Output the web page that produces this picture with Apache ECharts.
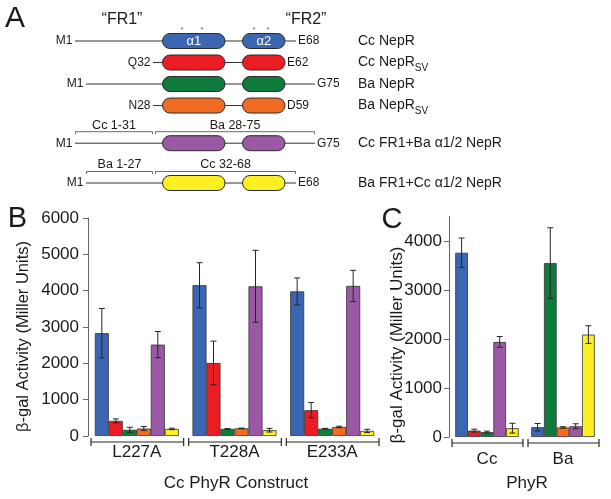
<!DOCTYPE html>
<html><head><meta charset="utf-8">
<script src="https://cdn.jsdelivr.net/npm/echarts@6/dist/echarts.min.js"></script>
<style>html,body{margin:0;padding:0;background:#fff}#c{width:611px;height:499px}</style>
</head><body><div id="c"></div>
<script>
// ---------- DATA ----------
const constructNames = ['Cc NepR', 'Cc NepR{sv|SV}', 'Ba NepR', 'Ba NepR{sv|SV}', 'Cc FR1+Ba α1/2 NepR', 'Ba FR1+Cc α1/2 NepR'];
// panel A schematic (alignment columns)
const aLeftLabels = ['M1', 'Q32', 'M1', 'N28', 'M1', 'M1'];
const aRightLabels = ['E68', 'E62', 'G75', 'D59', 'G75', 'E68'];
const aLineStart = [0, 31.2, 4.4, 31.2, 0, 4.4];
const aLineEnd = [88.4, 84, 96, 84, 96, 88.4];
const aHelix1 = [35, 60];
const aHelix2 = [67, 84];
const aBracketsRow5 = [[0, 31.2, 'Cc 1-31'], [32, 96, 'Ba 28-75']];
const aBracketsRow6 = [[4.4, 31.2, 'Ba 1-27'], [32, 88.4, 'Cc 32-68']];
const aHelixLabels = ['α1', 'α2'];
const aStars = [42.8, 50.8, 71.6, 77.2];

// panel B
const bCategories = ['L227A', 'T228A', 'E233A'];
const bCcNepR = [2830, 4150, 3980];
const bCcNepRSV = [415, 2010, 710];
const bBaNepR = [170, 195, 200];
const bBaNepRSV = [205, 210, 250];
const bCcFR1 = [2515, 4120, 4130];
const bBaFR1 = [195, 160, 140];
const bErrCcNepR = [680, 620, 370];
const bErrCcNepRSV = [55, 600, 210];
const bErrBaNepR = [70, 8, 10];
const bErrBaNepRSV = [55, 8, 20];
const bErrCcFR1 = [360, 990, 430];
const bErrBaFR1 = [20, 50, 45];
const bTicks = [0, 1000, 2000, 3000, 4000, 5000, 6000];

// panel C
const cCategories = ['Cc', 'Ba'];
const cCcNepR = [3760, 200];
const cCcNepRSV = [130, null];
const cBaNepR = [100, 3550];
const cBaNepRSV = [null, 195];
const cCcFR1 = [1940, 220];
const cBaFR1 = [180, 2090];
const cErrCcNepR = [300, 75];
const cErrCcNepRSV = [30, null];
const cErrBaNepR = [20, 720];
const cErrBaNepRSV = [null, 15];
const cErrCcFR1 = [110, 50];
const cErrBaFR1 = [100, 180];
const cTicks = [0, 1000, 2000, 3000, 4000];

// ---------- STYLE / LAYOUT ----------
const colors = ['#3c66b1', '#ec1c24', '#0f7b3d', '#f26b22', '#9a58a5', '#fcef22'];
const FONT = "'Liberation Sans', Arial, sans-serif";
const TXT = '#1a1a1a';
const aLane = [0, 1, 2, 3, 4.75, 6.6];
const aNameCol = 113.2;
const B_BAR = 14, C_BAR = 12.7;

const bMeans = [bCcNepR, bCcNepRSV, bBaNepR, bBaNepRSV, bCcFR1, bBaFR1];
const bErrs = [bErrCcNepR, bErrCcNepRSV, bErrBaNepR, bErrBaNepRSV, bErrCcFR1, bErrBaFR1];
const cMeans = [cCcNepR, cCcNepRSV, cBaNepR, cBaNepRSV, cCcFR1, cBaFR1];
const cErrs = [cErrCcNepR, cErrCcNepRSV, cErrBaNepR, cErrBaNepRSV, cErrCcFR1, cErrBaFR1];

const chart = echarts.init(document.getElementById('c'), null, {renderer: 'canvas'});

function errRender(barW) {
  return function (params, api) {
    const cat = api.value(0), m = api.value(1), e = api.value(2), s = api.value(3), n = api.value(4);
    const c = api.coord([cat, m]);
    const x = c[0] + (s - (n - 1) / 2) * barW;
    const yt = api.coord([cat, m + e])[1];
    const yb = api.coord([cat, Math.max(m - e, 0)])[1];
    const st = {stroke: '#262626', lineWidth: 1};
    return {type: 'group', children: [
      {type: 'line', shape: {x1: x, y1: yt, x2: x, y2: yb}, style: st},
      {type: 'line', shape: {x1: x - 3, y1: yt, x2: x + 3, y2: yt}, style: st},
      {type: 'line', shape: {x1: x - 3, y1: yb, x2: x + 3, y2: yb}, style: st}
    ]};
  };
}
function bracketRender(params, api) {
  const cat = api.value(0);
  const c = api.coord([cat, 0]);
  const bw = api.size([1, 0])[0];
  const y = c[1] + 6;
  const x1 = c[0] - bw / 2 + 3, x2 = c[0] + bw / 2 - 2;
  const st = {stroke: '#262626', lineWidth: 1.2};
  return {type: 'group', children: [
    {type: 'line', shape: {x1: x1, y1: y, x2: x2, y2: y}, style: st},
    {type: 'line', shape: {x1: x1, y1: y - 4, x2: x1, y2: y + 4}, style: st},
    {type: 'line', shape: {x1: x2, y1: y - 4, x2: x2, y2: y + 4}, style: st}
  ]};
}
function schematicRender(params, api) {
  const i = params.dataIndex, lane = aLane[i];
  const P = x => api.coord([x, lane]);
  const y = P(0)[1];
  const ch = [];
  const xs = P(aLineStart[i])[0], xe = P(aLineEnd[i])[0];
  ch.push({type: 'line', shape: {x1: xs, y1: y, x2: xe, y2: y}, style: {stroke: '#333', lineWidth: 1}});
  [aHelix1, aHelix2].forEach((h, k) => {
    const x1 = P(h[0])[0], x2 = P(h[1])[0];
    ch.push({type: 'rect', shape: {x: x1, y: y - 7.5, width: x2 - x1, height: 15, r: 7.5},
      style: {fill: colors[i], stroke: '#2b2b2b', lineWidth: 1}});
    if (i === 0) ch.push({type: 'text', x: (x1 + x2) / 2, y: y + 0.5,
      style: {text: aHelixLabels[k], fill: '#fff', font: '13px ' + FONT, align: 'center', verticalAlign: 'middle'}});
  });
  if (i === 0) aStars.forEach(s => ch.push({type: 'text', x: P(s)[0], y: y - 11,
    style: {text: '*', fill: '#666', font: '8px ' + FONT, align: 'center', verticalAlign: 'middle'}}));
  ch.push({type: 'text', x: xs - 2.5, y: y, style: {text: aLeftLabels[i], fill: TXT, font: '12px ' + FONT, align: 'right', verticalAlign: 'middle'}});
  ch.push({type: 'text', x: xe + 2, y: y, style: {text: aRightLabels[i], fill: TXT, font: '12px ' + FONT, align: 'left', verticalAlign: 'middle'}});
  ch.push({type: 'text', x: P(aNameCol)[0], y: y, style: {text: constructNames[i], fill: TXT, font: '14px ' + FONT, align: 'left', verticalAlign: 'middle',
    rich: {sv: {fontSize: 10, fontFamily: FONT, fill: TXT, padding: [12, 0, 0, 0]}}}});
  const br = i === 4 ? aBracketsRow5 : (i === 5 ? aBracketsRow6 : null);
  if (br) {
    const yb = y - 11.5;
    br.forEach(b => {
      const x1 = P(b[0])[0] + 0.5, x2 = P(b[1])[0] - 0.5;
      const st = {stroke: '#444', lineWidth: 0.8};
      ch.push({type: 'line', shape: {x1: x1, y1: yb, x2: x2, y2: yb}, style: st});
      ch.push({type: 'line', shape: {x1: x1, y1: yb, x2: x1, y2: yb + 2.5}, style: st});
      ch.push({type: 'line', shape: {x1: x2, y1: yb, x2: x2, y2: yb + 2.5}, style: st});
      ch.push({type: 'text', x: (x1 + x2) / 2, y: yb - 6.5, style: {text: b[2], fill: TXT, font: '12.5px ' + FONT, align: 'center', verticalAlign: 'middle'}});
    });
  }
  return {type: 'group', children: ch};
}

// panel B series
const series = [];
bMeans.forEach((arr, i) => {
  series.push({type: 'bar', xAxisIndex: 0, yAxisIndex: 0, data: arr, barWidth: B_BAR, barGap: '0%',
    itemStyle: {color: colors[i], borderColor: '#333', borderWidth: 0.8}, silent: true});
});
const bErrData = [];
bMeans.forEach((arr, i) => arr.forEach((v, c) => bErrData.push([c, v, bErrs[i][c], i, bMeans.length])));
series.push({type: 'custom', xAxisIndex: 0, yAxisIndex: 0, data: bErrData, renderItem: errRender(B_BAR), encode: {x: 0, y: 1}, z: 5, silent: true});
series.push({type: 'custom', xAxisIndex: 0, yAxisIndex: 0, data: bCategories.map((c, k) => [k, 0]), renderItem: bracketRender, encode: {x: 0, y: 1}, clip: false, silent: true});

// panel C: each category shows only the constructs with values, in order (slots)
const cSlotsCount = Math.max(...cCategories.map((c, k) => cMeans.filter(a => a[k] != null).length));
const cSlotData = Array.from({length: cSlotsCount}, () => cCategories.map(() => null));
const cErrData = [];
cCategories.forEach((cat, k) => {
  let s = 0;
  cMeans.forEach((arr, i) => {
    if (arr[k] == null) return;
    cSlotData[s][k] = {value: arr[k], itemStyle: {color: colors[i]}};
    cErrData.push([k, arr[k], cErrs[i][k], s, cSlotsCount]);
    s++;
  });
});
cSlotData.forEach(d => series.push({type: 'bar', xAxisIndex: 1, yAxisIndex: 1, data: d, barWidth: C_BAR, barGap: '0%',
  itemStyle: {borderColor: '#333', borderWidth: 0.8}, silent: true}));
series.push({type: 'custom', xAxisIndex: 1, yAxisIndex: 1, data: cErrData, renderItem: errRender(C_BAR), encode: {x: 0, y: 1}, z: 5, silent: true});
series.push({type: 'custom', xAxisIndex: 1, yAxisIndex: 1, data: cCategories.map((c, k) => [k, 0]), renderItem: bracketRender, encode: {x: 0, y: 1}, clip: false, silent: true});

// panel A schematic
series.push({type: 'custom', xAxisIndex: 2, yAxisIndex: 2, data: constructNames.map((n, i) => [0, i]), renderItem: schematicRender, clip: false, silent: true});

const yAxisCommon = {
  type: 'value', interval: 1000, splitLine: {show: false},
  axisLine: {show: true, lineStyle: {color: '#666', width: 1}},
  axisTick: {show: true, length: 5, lineStyle: {color: '#666'}},
  axisLabel: {fontSize: 17, fontFamily: FONT, color: TXT, formatter: v => String(v)}
};
const option = {
  animation: false,
  backgroundColor: '#fff',
  grid: [
    {left: 88, top: 218, width: 293, height: 218},
    {left: 449, top: 216.5, width: 152, height: 220.5},
    {left: 75, top: 41, width: 240, height: 142}
  ],
  xAxis: [
    {type: 'category', gridIndex: 0, data: bCategories, axisLine: {show: false}, axisTick: {show: false},
      axisLabel: {fontSize: 17, fontFamily: FONT, color: TXT, margin: 7.5}},
    {type: 'category', gridIndex: 1, data: cCategories, axisLine: {show: false}, axisTick: {show: false},
      axisLabel: {fontSize: 17, fontFamily: FONT, color: TXT, margin: 14}},
    {type: 'value', gridIndex: 2, min: 0, max: 96, show: false}
  ],
  yAxis: [
    Object.assign({}, yAxisCommon, {gridIndex: 0, min: 0, max: 6000,
      axisLabel: Object.assign({}, yAxisCommon.axisLabel, {margin: 9, customValues: bTicks}),
      axisTick: Object.assign({}, yAxisCommon.axisTick, {customValues: bTicks})}),
    Object.assign({}, yAxisCommon, {gridIndex: 1, min: 0, max: 4500,
      axisLabel: Object.assign({}, yAxisCommon.axisLabel, {margin: 7, customValues: cTicks}),
      axisTick: Object.assign({}, yAxisCommon.axisTick, {customValues: cTicks})}),
    {type: 'value', gridIndex: 2, min: 0, max: 6.6, inverse: true, show: false}
  ],
  graphic: [
    {type: 'text', x: 15, y: 19, style: {text: 'A', font: '30px ' + FONT, fill: TXT, align: 'center', verticalAlign: 'middle'}},
    {type: 'text', x: 122, y: 20, style: {text: '“FR1”', font: '16px ' + FONT, fill: TXT, align: 'center', verticalAlign: 'middle'}},
    {type: 'text', x: 306, y: 20, style: {text: '“FR2”', font: '16px ' + FONT, fill: TXT, align: 'center', verticalAlign: 'middle'}},
    {type: 'text', x: 17.5, y: 219, style: {text: 'B', font: '29px ' + FONT, fill: TXT, align: 'center', verticalAlign: 'middle'}},
    {type: 'text', x: 392, y: 220, style: {text: 'C', font: '29px ' + FONT, fill: TXT, align: 'center', verticalAlign: 'middle'}},
    {type: 'text', x: 23.5, y: 336.5, rotation: Math.PI / 2, style: {text: 'β-gal Activity (Miller Units)', font: '16.5px ' + FONT, fill: TXT, align: 'center', verticalAlign: 'middle'}},
    {type: 'text', x: 397, y: 345, rotation: Math.PI / 2, style: {text: 'β-gal Activity (Miller Units)', font: '17px ' + FONT, fill: TXT, align: 'center', verticalAlign: 'middle'}},
    {type: 'text', x: 236, y: 483, style: {text: 'Cc PhyR Construct', font: '17px ' + FONT, fill: TXT, align: 'center', verticalAlign: 'middle'}},
    {type: 'text', x: 527, y: 483, style: {text: 'PhyR', font: '17px ' + FONT, fill: TXT, align: 'center', verticalAlign: 'middle'}}
  ],
  series: series
};
chart.setOption(option);
</script></body></html>
